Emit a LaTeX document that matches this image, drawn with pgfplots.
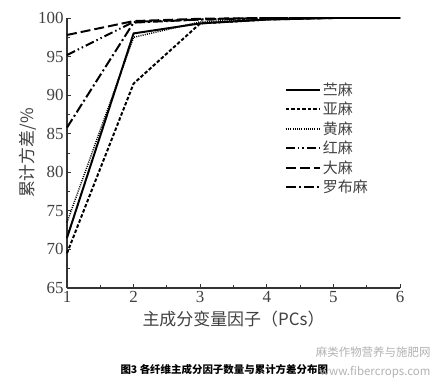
\documentclass[border=0pt]{standalone}
\usepackage{pgfplots}
\pgfplotsset{compat=1.18}
\usepackage{fontspec}
\setmainfont{Liberation Serif}
\newfontfamily\cjk{Noto Sans CJK SC}
\begin{document}
\begin{tikzpicture}[x=1bp,y=1bp]
\useasboundingbox (0,0) rectangle (437,381);
\begin{axis}[
  at={(67bp,93bp)}, anchor=south west,
  scale only axis, width=333bp, height=270bp,
  xmin=1, xmax=6, ymin=65, ymax=100,
  axis lines=left, axis line style={-, line width=1.5pt, black!80},
  xtick={1,2,3,4,5,6}, ytick={65,70,75,80,85,90,95,100},
  minor xtick={1.5,2.5,3.5,4.5,5.5}, minor ytick={67.5,72.5,77.5,82.5,87.5,92.5,97.5},
  tick align=inside, major tick length=4pt, minor tick length=3pt,
  tick style={black!80, line width=0.9pt},
  /pgf/number format/assume math mode=true,
  ticklabel style={font=\fontsize{17}{17}\selectfont, black!75},
  xlabel={\cjk 主成分变量因子（PCs）},
  ylabel={\cjk 累计方差/\%},
  xlabel style={font=\fontsize{17}{17}\selectfont, black!75, yshift=-1bp},
  ylabel style={font=\fontsize{17}{17}\selectfont, black!75, yshift=-5bp},
  clip=false,
  legend style={at={(0.645,0.775)}, anchor=north west, draw=none, fill=none,
    font=\cjk\fontsize{15}{18}\selectfont, text=black!75, row sep=1.3bp},
  legend cell align=left,
  legend image code/.code={\draw[#1] (0bp,0bp) -- (34bp,0bp);},
]
\addplot[black, line width=2pt, solid] coordinates {(1,71.5) (2,98.0) (3,99.3) (4,99.8) (5,100) (6,100)};
\addlegendentry{苎麻}
\addplot[black, line width=2pt, dash pattern=on 3.5pt off 2pt] coordinates {(1,69.5) (2,91.5) (3,99.3) (4,99.8) (5,100) (6,100)};
\addlegendentry{亚麻}
\addplot[black, line width=1.5pt, dash pattern=on 1pt off 1.2pt] coordinates {(1,73.5) (2,97.5) (3,99.5) (4,99.9) (5,100) (6,100)};
\addlegendentry{黄麻}
\addplot[black, line width=2pt, dash pattern=on 9pt off 3pt on 1.5pt off 3pt on 1.5pt off 3pt] coordinates {(1,95.2) (2,99.5) (3,99.8) (4,100) (5,100) (6,100)};
\addlegendentry{红麻}
\addplot[black, line width=2pt, dash pattern=on 10pt off 4pt] coordinates {(1,97.8) (2,99.6) (3,99.9) (4,100) (5,100) (6,100)};
\addlegendentry{大麻}
\addplot[black, line width=2pt, dash pattern=on 10pt off 3pt on 2pt off 3pt] coordinates {(1,85.8) (2,99.4) (3,99.8) (4,100) (5,100) (6,100)};
\addlegendentry{罗布麻}
\end{axis}
\node[font=\cjk\bfseries\fontsize{10.5}{10.5}\selectfont, anchor=west] at (117,11) {图3 各纤维主成分因子数量与累计方差分布图};
\node[font=\cjk\fontsize{11.5}{11.5}\selectfont, text=black!30, anchor=east] at (434,29) {麻类作物营养与施肥网};
\node[font=\cjk\fontsize{11.5}{11.5}\selectfont, text=black!30, anchor=east] at (434,9) {www.fibercrops.com};
\end{tikzpicture}
\end{document}
